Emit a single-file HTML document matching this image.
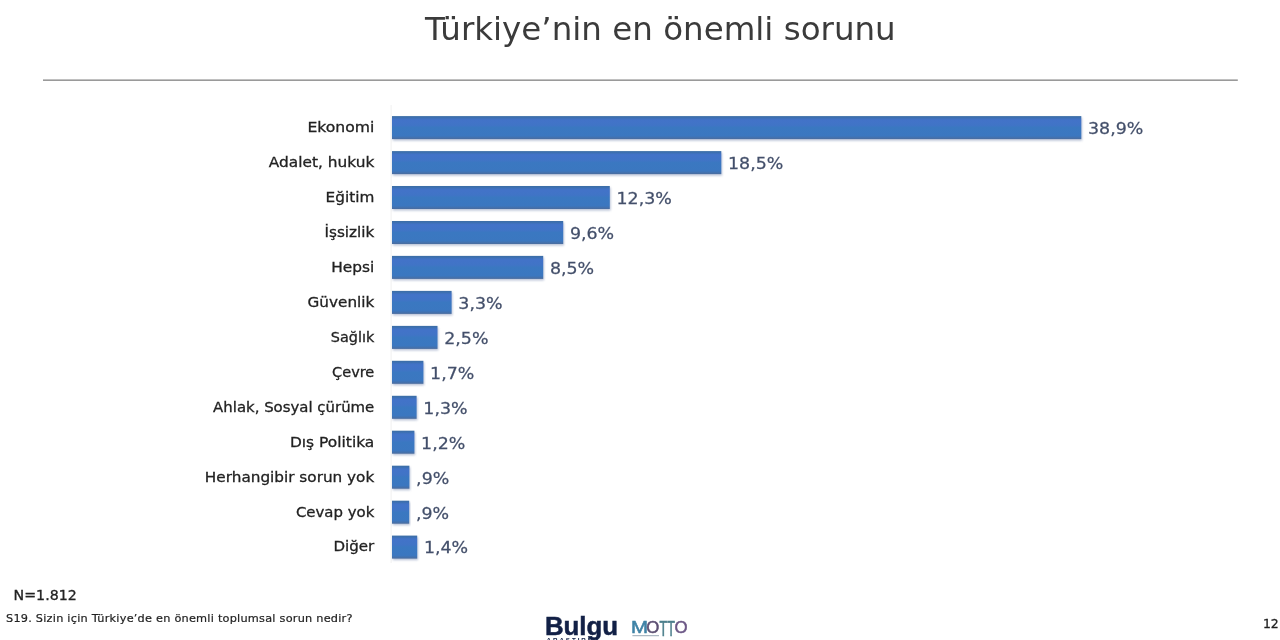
<!DOCTYPE html>
<html lang="tr">
<head>
<meta charset="utf-8">
<title>Türkiye’nin en önemli sorunu</title>
<style>
html,body{margin:0;padding:0;background:#fff;}
body{width:1280px;height:640px;overflow:hidden;position:relative;}
svg{position:absolute;left:0;top:0;display:block;}
.title{font-family:"DejaVu Sans","Liberation Sans",sans-serif;font-size:32px;fill:#3b3b3b;}
.lab{font-family:"DejaVu Sans","Liberation Sans",sans-serif;font-size:14.5px;fill:#222;text-anchor:end;stroke:#222;stroke-width:0.3px;}
.val{font-family:"DejaVu Sans","Liberation Sans",sans-serif;font-size:16px;fill:#434f6a;stroke:#434f6a;stroke-width:0.25px;}
.n{font-family:"DejaVu Sans","Liberation Sans",sans-serif;font-size:14.2px;fill:#222;stroke:#222;stroke-width:0.3px;}
.q{font-family:"DejaVu Sans","Liberation Sans",sans-serif;font-size:11.3px;fill:#222;stroke:#222;stroke-width:0.2px;}
.pg{font-family:"DejaVu Sans","Liberation Sans",sans-serif;font-size:12.4px;fill:#222;text-anchor:end;stroke:#222;stroke-width:0.3px;}
.bulgu{font-family:"Liberation Sans",sans-serif;font-weight:bold;font-size:25.6px;fill:#122046;stroke:#122046;stroke-width:0.5px;}
.ara{font-family:"Liberation Sans",sans-serif;font-weight:bold;font-size:6.2px;fill:#122046;letter-spacing:1.95px;}
.motto{font-family:"Liberation Sans",sans-serif;font-size:16.8px;stroke-width:0.5px;}
</style>
</head>
<body>
<svg width="1280" height="640" viewBox="0 0 1280 640">
<defs>
<linearGradient id="bg" x1="0" y1="0" x2="0" y2="1">
<stop offset="0" stop-color="#3b6da4"/><stop offset="0.07" stop-color="#3d70b2"/><stop offset="0.14" stop-color="#4172c6"/><stop offset="0.2" stop-color="#4273c8"/><stop offset="0.4" stop-color="#4074c6"/><stop offset="0.5" stop-color="#3a78c1"/><stop offset="0.86" stop-color="#3b77c0"/><stop offset="0.95" stop-color="#4570aa"/><stop offset="1" stop-color="#4a6c9e"/>
</linearGradient>
<filter id="sh" x="-5%" y="-20%" width="110%" height="150%"><feGaussianBlur stdDeviation="0.8"/></filter>
</defs>
<rect x="0" y="0" width="1280" height="640" fill="#ffffff"/>
<text class="title" x="660.3" y="40" text-anchor="middle" textLength="470.8" lengthAdjust="spacingAndGlyphs">Türkiye’nin en önemli sorunu</text>
<rect x="43" y="79.5" width="1194.8" height="1.3" fill="#828282"/>
<rect x="390.6" y="105" width="1" height="458" fill="#f0f0f0"/>

<rect x="392.8" y="117.6" width="689.3" height="23.0" fill="#8797ba" opacity="0.6" filter="url(#sh)"/>
<rect x="392.0" y="116.1" width="689.3" height="23.0" fill="url(#bg)"/>
<text class="lab" transform="translate(374.3,131.9) scale(1.078,1)">Ekonomi</text>
<text class="val" transform="translate(1088.0,133.9) scale(1.09,1)">38,9%</text>
<rect x="392.8" y="152.6" width="329.3" height="23.0" fill="#8797ba" opacity="0.6" filter="url(#sh)"/>
<rect x="392.0" y="151.1" width="329.3" height="23.0" fill="url(#bg)"/>
<text class="lab" transform="translate(374.3,166.9) scale(1.06,1)">Adalet, hukuk</text>
<text class="val" transform="translate(728.0,168.9) scale(1.09,1)">18,5%</text>
<rect x="392.8" y="187.5" width="217.8" height="23.0" fill="#8797ba" opacity="0.6" filter="url(#sh)"/>
<rect x="392.0" y="186.0" width="217.8" height="23.0" fill="url(#bg)"/>
<text class="lab" transform="translate(374.3,201.8) scale(1.055,1)">Eğitim</text>
<text class="val" transform="translate(616.5,203.8) scale(1.09,1)">12,3%</text>
<rect x="392.8" y="222.5" width="171.2" height="23.0" fill="#8797ba" opacity="0.6" filter="url(#sh)"/>
<rect x="392.0" y="221.0" width="171.2" height="23.0" fill="url(#bg)"/>
<text class="lab" transform="translate(374.3,236.8) scale(1.05,1)">İşsizlik</text>
<text class="val" transform="translate(569.9,238.8) scale(1.09,1)">9,6%</text>
<rect x="392.8" y="257.4" width="151.2" height="23.0" fill="#8797ba" opacity="0.6" filter="url(#sh)"/>
<rect x="392.0" y="255.9" width="151.2" height="23.0" fill="url(#bg)"/>
<text class="lab" transform="translate(374.3,271.7) scale(1.06,1)">Hepsi</text>
<text class="val" transform="translate(549.9,273.7) scale(1.09,1)">8,5%</text>
<rect x="392.8" y="292.4" width="59.6" height="23.0" fill="#8797ba" opacity="0.6" filter="url(#sh)"/>
<rect x="392.0" y="290.9" width="59.6" height="23.0" fill="url(#bg)"/>
<text class="lab" transform="translate(374.3,306.7) scale(1.05,1)">Güvenlik</text>
<text class="val" transform="translate(458.3,308.7) scale(1.09,1)">3,3%</text>
<rect x="392.8" y="327.4" width="45.5" height="23.0" fill="#8797ba" opacity="0.6" filter="url(#sh)"/>
<rect x="392.0" y="325.9" width="45.5" height="23.0" fill="url(#bg)"/>
<text class="lab" transform="translate(374.3,341.7) scale(0.994,1)">Sağlık</text>
<text class="val" transform="translate(444.2,343.7) scale(1.09,1)">2,5%</text>
<rect x="392.8" y="362.3" width="31.4" height="23.0" fill="#8797ba" opacity="0.6" filter="url(#sh)"/>
<rect x="392.0" y="360.8" width="31.4" height="23.0" fill="url(#bg)"/>
<text class="lab" transform="translate(374.3,376.6) scale(1.0,1)">Çevre</text>
<text class="val" transform="translate(430.1,378.6) scale(1.09,1)">1,7%</text>
<rect x="392.8" y="397.3" width="24.6" height="23.0" fill="#8797ba" opacity="0.6" filter="url(#sh)"/>
<rect x="392.0" y="395.8" width="24.6" height="23.0" fill="url(#bg)"/>
<text class="lab" transform="translate(374.3,411.6) scale(1.029,1)">Ahlak, Sosyal çürüme</text>
<text class="val" transform="translate(423.3,413.6) scale(1.09,1)">1,3%</text>
<rect x="392.8" y="432.2" width="22.4" height="23.0" fill="#8797ba" opacity="0.6" filter="url(#sh)"/>
<rect x="392.0" y="430.7" width="22.4" height="23.0" fill="url(#bg)"/>
<text class="lab" transform="translate(374.3,446.5) scale(1.065,1)">Dış Politika</text>
<text class="val" transform="translate(421.1,448.5) scale(1.09,1)">1,2%</text>
<rect x="392.8" y="467.2" width="17.4" height="23.0" fill="#8797ba" opacity="0.6" filter="url(#sh)"/>
<rect x="392.0" y="465.7" width="17.4" height="23.0" fill="url(#bg)"/>
<text class="lab" transform="translate(374.3,481.5) scale(1.053,1)">Herhangibir sorun yok</text>
<text class="val" transform="translate(416.1,483.5) scale(1.09,1)">,9%</text>
<rect x="392.8" y="502.2" width="17.2" height="23.0" fill="#8797ba" opacity="0.6" filter="url(#sh)"/>
<rect x="392.0" y="500.7" width="17.2" height="23.0" fill="url(#bg)"/>
<text class="lab" transform="translate(374.3,516.5) scale(1.03,1)">Cevap yok</text>
<text class="val" transform="translate(415.9,518.5) scale(1.09,1)">,9%</text>
<rect x="392.8" y="537.1" width="25.2" height="23.0" fill="#8797ba" opacity="0.6" filter="url(#sh)"/>
<rect x="392.0" y="535.6" width="25.2" height="23.0" fill="url(#bg)"/>
<text class="lab" transform="translate(374.3,551.4) scale(1.04,1)">Diğer</text>
<text class="val" transform="translate(423.9,553.4) scale(1.09,1)">1,4%</text>
<text class="n" x="13.6" y="599.6" textLength="63.2" lengthAdjust="spacingAndGlyphs">N=1.812</text>
<text class="q" x="6" y="621.9" textLength="346.5" lengthAdjust="spacing">S19. Sizin için Türkiye’de en önemli toplumsal sorun nedir?</text>
<text class="pg" transform="translate(1278.7,627.6) scale(1.0,1)">12</text>
<text class="bulgu" x="544.9" y="634.5" textLength="73.2" lengthAdjust="spacingAndGlyphs">Bulgu</text>
<text class="ara" x="546.6" y="642.3">ARAŞTIRMA</text>
<g class="motto">
<text transform="translate(631,632.7) scale(1.22,1)" fill="#3f83a6" stroke="#3f83a6">M</text>
<text x="646.2" y="632.7" fill="#5c4f72" stroke="#5c4f72">O</text>
<text transform="translate(659.45,636.2) scale(0.75,1.29)" fill="#4d7f8c" stroke="#4d7f8c">T</text>
<text transform="translate(667.35,636.2) scale(0.75,1.29)" fill="#4d7f8c" stroke="#4d7f8c">T</text>
<text x="674.4" y="632.7" fill="#6b5685" stroke="#6b5685">O</text>
<rect x="632.4" y="635.2" width="26.6" height="1" fill="#9aa9b5"/>
</g>
</svg>
</body>
</html>
